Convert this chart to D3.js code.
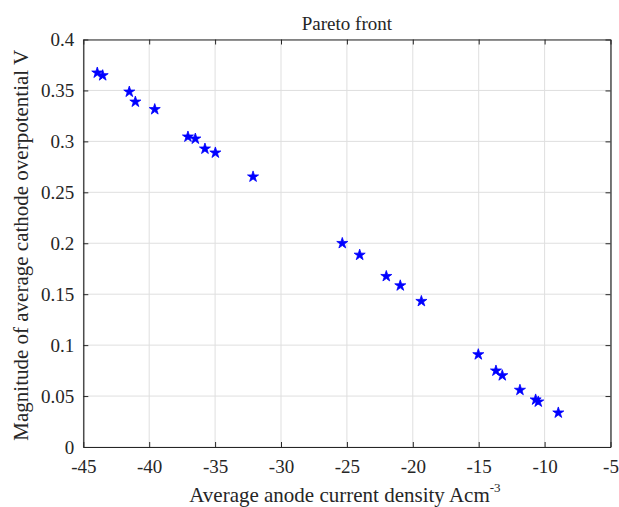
<!DOCTYPE html>
<html><head><meta charset="utf-8">
<script src="https://cdn.jsdelivr.net/npm/d3@7"></script>
<style>body{margin:0;background:#fff}svg{display:block}</style>
</head><body>
<script>
const xValues = [-43.94,-43.53,-41.51,-41.05,-39.58,-37.06,-36.50,-35.77,-34.98,-32.12,-25.35,-24.03,-22.01,-20.95,-19.35,-15.03,-13.69,-13.21,-11.87,-10.68,-10.48,-8.96];
const yValues = [0.3673,0.3647,0.3486,0.3388,0.3314,0.3045,0.3025,0.2927,0.2888,0.2653,0.2000,0.1885,0.1676,0.1584,0.1431,0.0908,0.0748,0.0702,0.0559,0.0464,0.0444,0.0336];
const xTicks = [-45,-40,-35,-30,-25,-20,-15,-10,-5];
const yTicks = [0,0.05,0.1,0.15,0.2,0.25,0.3,0.35,0.4];
const titleText = "Pareto front";
const xLabel = "Average anode current density Acm";
const yLabel = "Magnitude of average cathode overpotential V";

const W=619,H=507, L=83.3, R=610.5, T=39.5, B=447;
const svg=d3.select("body").append("svg").attr("width",W).attr("height",H).style("font-family","serif");
const x=d3.scaleLinear().domain([-45,-5]).range([L,R]);
const y=d3.scaleLinear().domain([0,0.4]).range([B,T]);

// grid
const g=svg.append("g");
g.selectAll(".gx").data(xTicks).join("line").attr("x1",d=>x(d)).attr("x2",d=>x(d)).attr("y1",T).attr("y2",B).attr("stroke","#dfdfdf").attr("stroke-width",1);
g.selectAll(".gy").data(yTicks).join("line").attr("y1",d=>y(d)).attr("y2",d=>y(d)).attr("x1",L).attr("x2",R).attr("stroke","#dfdfdf").attr("stroke-width",1);

// axes
const fmtY=d=>d===0?"0":String(+d.toFixed(2));
const axB=svg.append("g").attr("transform",`translate(0,${B})`).call(d3.axisBottom(x).tickValues(xTicks).tickSizeInner(-5).tickSizeOuter(0).tickPadding(12).tickFormat(d=>String(d)));
const axT=svg.append("g").attr("transform",`translate(0,${T})`).call(d3.axisTop(x).tickValues(xTicks).tickSizeInner(-5).tickSizeOuter(0).tickFormat(""));
const axL=svg.append("g").attr("transform",`translate(${L},0)`).call(d3.axisLeft(y).tickValues(yTicks).tickSizeInner(-5).tickSizeOuter(0).tickPadding(9).tickFormat(fmtY));
const axR=svg.append("g").attr("transform",`translate(${R},0)`).call(d3.axisRight(y).tickValues(yTicks).tickSizeInner(-5).tickSizeOuter(0).tickFormat(""));
[axB,axT,axL,axR].forEach(a=>{a.attr("font-family",null).attr("font-size",null);a.select(".domain").attr("stroke","#262626").attr("stroke-width",1.2);a.selectAll(".tick line").attr("stroke","#262626");a.selectAll("text").style("font-family","serif").style("font-size","19px").style("fill","#262626");});
axB.selectAll("text").attr("dy","0.75em");

// points
const star=d3.symbol().type(d3.symbolStar).size(38);
svg.append("g").selectAll("path").data(xValues.map((v,i)=>[v,yValues[i]])).join("path")
  .attr("d",star).attr("transform",d=>`translate(${x(d[0])},${y(d[1])})`).attr("fill","#0000ff").attr("stroke","#0000ff").attr("stroke-width",0.8);

// title & labels
const st=s=>s.style("font-family","serif").style("fill","#262626");
svg.append("text").attr("x",(L+R)/2).attr("y",30).attr("text-anchor","middle").style("font-size","19px").call(st).text(titleText);
const xl=svg.append("text").attr("x",(L+R)/2-2).attr("y",502).attr("text-anchor","middle").style("font-size","21px").call(st);
xl.append("tspan").text(xLabel);
xl.append("tspan").style("font-size","13px").attr("dy",-10).text("-3");
svg.append("text").attr("transform",`translate(28,${(T+B)/2+2}) rotate(-90)`).attr("text-anchor","middle").style("font-size","21px").call(st).text(yLabel);
</script>
</body></html>
